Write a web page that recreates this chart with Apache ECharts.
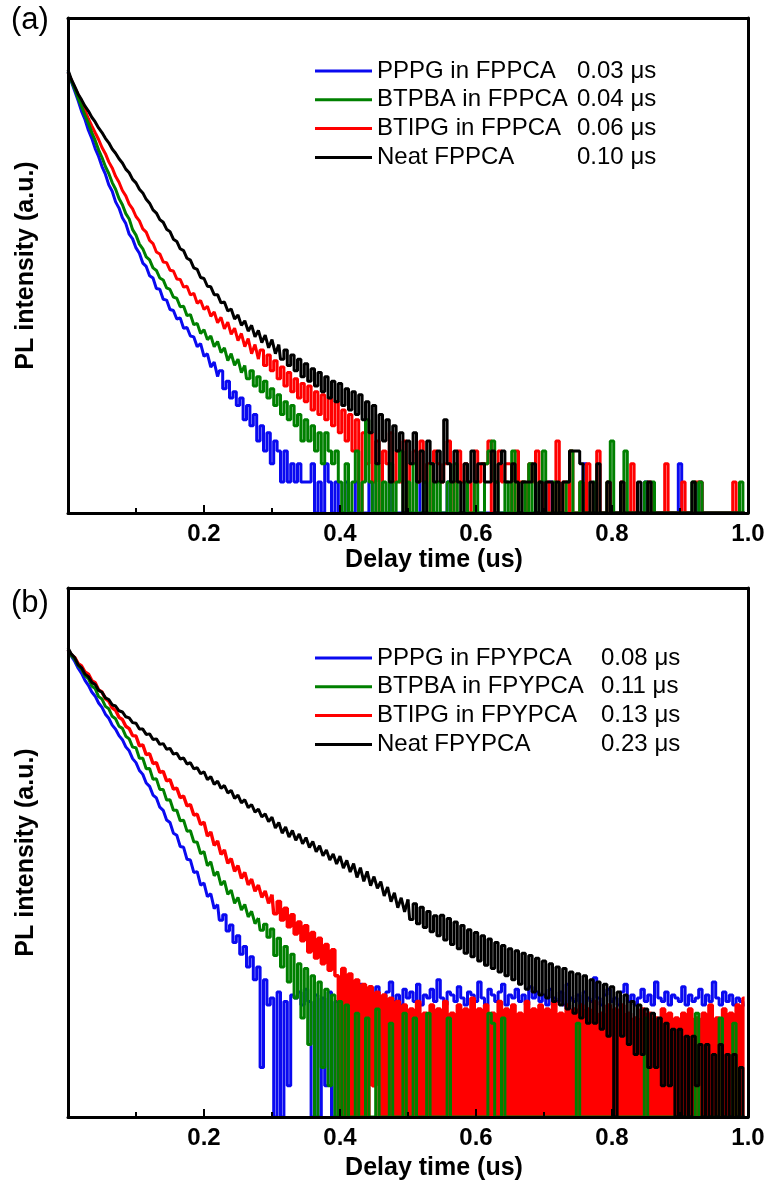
<!DOCTYPE html>
<html>
<head>
<meta charset="utf-8">
<script src="https://cdn.jsdelivr.net/npm/echarts@6/dist/echarts.min.js"></script>
<style>
html,body{margin:0;padding:0;background:#fff;}
#chart{width:769px;height:1190px;}
</style>
</head>
<body>
<div id="chart"></div>
<script>
// Time grid step (us) for every series
const T_STEP = 0.005;
const X_TICKS = [0.2, 0.4, 0.6, 0.8, 1.0];

// Panel (a): host FPPCA
const NAMES_A = ['PPPG in FPPCA', 'BTPBA in FPPCA', 'BTIPG in FPPCA', 'Neat FPPCA'];
const TAU_A = ['0.03 μs', '0.04 μs', '0.06 μs', '0.10 μs'];
const A_BLUE = [18900,15200,12300,9950,7850,6540,5150,4300,3420,2870,
2290,1930,1520,1320,1040,905,730,640,505,455,
372,330,265,246,200,190,150,148,118,116,
94,92,76,78,62,63,52,51,41,44,
33,35,26,29,21,24,16,19,13,15,
11,13,8,11,7,9,5,7,4,6,
3,5,4,2,4,2,3,2,3,2,
2,2,3,1,2,1,3,2,1,2,
1,1,2,1,1,2,1,1,1,2,
1,1,1,1,1,2,1,1,1,1,
1,1,1,2,1,1,1,1,1,1,
1,1,2,1,1,1,1,1,1,1,
1,1,1,1,1,1,1,1,1,1,
1,1,1,1,1,1,1,1,1,1,
2,1,2,1,1,1,1,1,1,1,
1,1,3,1,1,1,1,1,1,1,
1,1,1,1,1,1,1,1,1,1,
2,1,1,1,1,1,1,1,1,1,
3,1,1,1,1,1,2,1,1,1,
1,1,1,1,1,1,1,1,1,1];
const A_GREEN = [18900,15500,12900,10500,8750,7200,6010,4880,4100,3320,
2800,2290,1960,1600,1380,1120,975,800,710,560,
495,405,365,305,285,238,225,190,182,152,
147,124,121,100,101,82,84,67,69,55,
60,48,52,41,46,36,40,30,35,27,
31,23,27,20,24,17,21,15,19,13,
16,11,14,9,12,8,11,7,9,5,
8,5,7,4,6,3,6,4,3,4,
2,1,3,1,2,4,1,2,8,2,
1,3,1,2,1,3,1,2,4,1,
2,1,3,1,1,2,1,3,1,2,
1,1,2,1,3,1,1,2,1,1,
2,1,1,3,4,5,2,1,1,2,
1,4,1,1,2,1,3,1,1,2,
4,1,1,2,1,1,1,2,4,1,
1,2,1,1,1,2,1,1,1,2,
5,1,1,1,4,1,1,1,1,1,
2,1,2,1,1,1,1,1,1,1,
1,1,1,1,2,1,2,1,1,1,
1,1,1,1,1,1,1,1,2,1];
const A_RED = [18500,15800,13300,11400,9500,8010,6650,5680,4870,4190,
3500,3050,2540,2220,1840,1610,1340,1190,990,890,
750,680,570,530,440,410,340,325,272,268,
226,222,186,184,155,158,130,135,108,115,
94,101,81,89,70,79,61,71,54,62,
47,55,41,49,35,43,31,38,27,34,
24,30,20,26,17,23,15,20,13,18,
12,17,10,15,9,14,8,13,7,12,
6,10,5,9,4,8,1,6,3,6,
2,5,1,4,3,6,2,4,2,5,
1,3,4,2,5,2,3,1,4,3,
2,3,5,1,2,4,2,3,2,1,
4,2,3,3,5,1,2,4,2,3,
3,1,4,2,2,1,3,2,4,2,
1,2,1,1,5,1,2,1,4,1,
1,2,1,3,1,1,4,1,1,2,
1,1,1,2,1,1,3,1,1,1,
1,2,1,1,1,1,3,1,1,1,
1,2,1,1,1,2,2,1,1,1,
1,1,1,1,1,1,2,1,1,1];
const A_BLACK = [19800,16000,13600,11500,10150,8800,7900,6880,6200,5420,
4890,4300,3890,3390,3080,2720,2480,2160,1990,1720,
1590,1380,1270,1100,1010,870,810,700,660,565,
535,452,430,365,350,295,283,238,230,192,
188,158,156,131,131,109,111,91,95,76,
83,66,73,58,66,51,59,45,53,40,
48,35,43,31,38,27,34,24,31,21,
28,19,25,17,23,15,21,13,19,12,
18,11,16,10,15,9,14,8,12,6,
11,3,9,5,8,2,7,4,6,1,
5,3,6,2,4,1,5,3,2,4,
2,8,3,2,4,2,1,3,2,4,
2,3,3,2,2,4,1,3,4,2,
2,3,2,1,2,2,2,3,1,2,
1,2,2,1,2,1,2,2,4,4,
4,3,1,1,2,1,3,1,1,2,
1,1,1,2,1,1,1,1,2,1,
1,2,1,1,1,1,1,1,1,1,
1,1,1,1,2,1,1,1,1,1,
1,1,1,1,1,1,1,1,1,1];

// Panel (b): host FPYPCA
const NAMES_B = ['PPPG in FPYPCA', 'BTPBA in FPYPCA', 'BTIPG in FPYPCA', 'Neat FPYPCA'];
const TAU_B = ['0.08 μs', '0.11 μs', '0.13 μs', '0.23 μs'];
const B_BLUE = [31900,27700,24600,21200,18900,16200,14500,12500,11400,9800,
8900,7650,6990,6000,5480,4750,4340,3700,3390,2850,
2610,2190,2010,1660,1540,1270,1190,970,905,730,
690,545,520,405,398,305,300,228,232,172,
180,133,142,102,112,79,89,62,71,48,
56,37,44,28,35,21,28,3,21,12,
14,1,16,1,13,2,15,14,16,12,
17,13,1,15,1,14,2,16,1,13,
1,15,14,17,12,15,19,13,14,16,
12,18,14,13,16,20,13,15,12,17,
14,16,13,19,12,15,14,17,13,21,
14,12,16,15,13,18,14,12,16,15,
13,20,14,12,17,15,13,16,19,12,
15,14,17,13,15,12,18,14,16,13,
15,12,17,14,13,16,12,19,14,13,
15,12,16,14,13,22,14,12,15,17,
13,14,12,16,19,13,15,12,14,17,
13,15,12,20,14,13,16,12,15,14,
13,18,12,15,13,14,17,12,15,13,
20,14,12,16,13,15,12,14,13,12];
const B_GREEN = [31900,28200,25900,22500,20800,18000,16800,14300,13500,11300,
10700,9100,8620,7300,6900,5850,5580,4690,4420,3680,
3630,2870,2880,2280,2290,1800,1820,1440,1440,1140,
1145,906,908,718,725,570,575,451,445,345,
362,265,289,212,232,172,189,140,154,115,
131,99,112,85,96,73,83,63,72,54,
65,36,53,28,44,20,37,14,30,9,
27,5,23,1,20,3,17,2,15,1,
13,1,12,1,1,10,1,1,9,1,
1,11,1,1,1,8,1,1,1,10,
1,1,9,1,1,1,10,1,1,1,
1,1,9,1,1,1,1,1,1,1,
1,1,1,1,10,8,1,1,9,1,
1,1,1,1,1,1,1,1,1,1,
1,1,1,1,1,1,1,1,1,1,
8,1,1,1,1,1,1,1,1,1,
1,1,1,1,1,1,1,1,1,1,
9,1,1,1,1,1,1,1,1,1,
1,1,1,1,1,10,1,1,1,1,
1,1,9,1,1,1,8,1,1,1];
const B_RED = [31900,28500,26900,23500,22300,19500,18600,16100,15400,13100,
12500,10800,10200,8780,8330,7130,6800,5850,5560,4750,
4710,3780,3870,3110,3180,2560,2610,2100,2150,1740,
1790,1450,1480,1200,1240,1000,1030,815,830,660,
695,510,560,415,458,340,375,279,310,234,
265,200,228,173,196,150,172,131,151,115,
139,91,120,79,103,68,89,58,76,50,
70,39,60,34,53,30,46,26,41,23,
1,27,1,24,1,21,1,19,1,18,
2,16,1,15,1,14,1,13,1,12,
1,11,1,13,1,10,1,12,1,11,
1,13,1,10,1,12,1,11,1,14,
1,11,1,12,1,10,1,13,1,11,
1,12,1,10,1,13,1,11,1,12,
1,11,1,13,1,10,1,12,1,11,
1,12,1,11,1,13,1,10,1,12,
1,11,1,12,1,10,1,9,1,11,
1,10,1,9,1,11,1,10,1,9,
1,10,1,11,1,9,1,10,1,12,
1,9,1,11,1,10,1,12,1,14];
const B_BLACK = [33300,29000,26700,22800,21400,18600,17600,15500,14800,13000,
12450,11000,10600,9420,9170,8250,8030,7220,7040,6340,
6250,5500,5490,4880,4940,4360,4420,3910,3980,3510,
3580,3150,3220,2830,2890,2530,2600,2270,2330,2040,
2130,1790,1910,1610,1730,1470,1570,1330,1410,1180,
1270,1070,1145,960,1030,870,930,780,836,705,
776,610,690,545,625,500,578,465,534,430,
494,396,452,360,412,330,376,300,344,275,
327,251,298,230,277,204,253,187,233,170,
208,160,186,135,165,119,145,104,130,95,
125,80,114,73,105,67,96,61,87,56,
88,51,82,46,76,42,70,38,64,35,
60,32,56,29,52,27,48,25,45,23,
42,21,40,19,38,17,36,16,34,15,
32,14,30,13,28,12,27,11,25,10,
24,9,23,8,21,8,20,7,19,6,
18,1,16,6,15,5,13,4,12,4,
11,3,10,3,9,2,8,2,7,1,
7,1,6,1,6,2,5,1,5,1,
4,1,5,1,4,1,4,1,3,1];

const COLORS = { blue: '#0a0af0', green: '#008000', red: '#ff0000', black: '#000000' };
const FONT = "'Liberation Sans', Arial, sans-serif";

function pairs(arr, from, to) {
  const out = [];
  for (let i = from; i < to; i++) out.push([Math.round(i * T_STEP * 1000) / 1000, arr[i]]);
  return out;
}
function base(name, data, color, xi, yi, w, step) {
  return {
    name: name, type: 'line', data: data, xAxisIndex: xi, yAxisIndex: yi,
    step: step, symbol: 'none', showSymbol: false, color: color, silent: true,
    lineStyle: { color: color, width: w, join: 'bevel' },
    itemStyle: { color: color }, animation: false, clip: true
  };
}
// smooth decay drawn as a plain line, noisy counting floor drawn as histogram-like steps
function mk(name, arr, color, xi, yi, w, split) {
  return [
    base(name, pairs(arr, 0, split + 1), color, xi, yi, w, false),
    base(name, pairs(arr, split, arr.length), color, xi, yi, w, 'middle')
  ];
}
const frameLine = { show: true, onZero: false, lineStyle: { color: '#000', width: 3 } };

function bottomX(g, nameGap) {
  return {
    gridIndex: g, type: 'value', min: 0, max: 1, interval: 0.2, position: 'bottom', z: 10,
    axisLine: frameLine,
    axisTick: { show: true, inside: true, length: 8, lineStyle: { color: '#000', width: 2 } },
    minorTick: { show: true, splitNumber: 2, length: 5, lineStyle: { color: '#000', width: 2 } },
    splitLine: { show: false }, minorSplitLine: { show: false },
    axisLabel: {
      show: true, margin: 9, color: '#000', fontSize: 24, fontWeight: 'bold', fontFamily: FONT, lineHeight: 24,
      formatter: v => (X_TICKS.some(t => Math.abs(t - v) < 1e-6) ? v.toFixed(1) : '')
    },
    name: 'Delay time (us)', nameLocation: 'middle', nameGap: nameGap,
    nameTextStyle: { color: '#000', fontSize: 25, fontWeight: 'bold', fontFamily: FONT, lineHeight: 26, padding: [0, 0, 0, 52] }
  };
}
function topX(g) {
  return { gridIndex: g, type: 'value', min: 0, max: 1, position: 'top', z: 10, axisLine: frameLine,
    axisTick: { show: false }, axisLabel: { show: false }, splitLine: { show: false } };
}
function leftY(g, max) {
  return {
    gridIndex: g, type: 'log', logBase: 10, min: 1, max: max, position: 'left', z: 10,
    axisLine: frameLine, axisTick: { show: false }, axisLabel: { show: false },
    splitLine: { show: false }, minorTick: { show: false },
    name: 'PL intensity (a.u.)', nameLocation: 'middle', nameGap: 29,
    nameTextStyle: { color: '#000', fontSize: 25, fontWeight: 'bold', fontFamily: FONT, lineHeight: 26 }
  };
}
function rightY(g) {
  return { gridIndex: g, type: 'value', min: 0, max: 1, position: 'right', z: 10, axisLine: frameLine,
    axisTick: { show: false }, axisLabel: { show: false }, splitLine: { show: false } };
}
function legend(names, taus, top, nameWidth) {
  return {
    data: names, orient: 'vertical', left: 315, top: top, padding: 0,
    itemWidth: 57, itemHeight: 3, itemGap: 4.8, icon: 'rect', selectedMode: false,
    formatter: name => '{n|' + name + '}{v|' + taus[names.indexOf(name)] + '}',
    textStyle: {
      color: '#000', fontFamily: FONT,
      rich: {
        n: { width: nameWidth, fontSize: 24, lineHeight: 24, fontFamily: FONT, color: '#000', align: 'left' },
        v: { fontSize: 24, lineHeight: 24, fontFamily: FONT, color: '#000' }
      }
    }
  };
}

const chart = echarts.init(document.getElementById('chart'), null, { renderer: 'canvas' });
chart.setOption({
  animation: false,
  backgroundColor: '#fff',
  title: [
    { text: '(a)', left: 11, top: 5, padding: 0, textStyle: { fontSize: 31, fontWeight: 'normal', color: '#000', fontFamily: FONT } },
    { text: '(b)', left: 11, top: 588, padding: 0, textStyle: { fontSize: 31, fontWeight: 'normal', color: '#000', fontFamily: FONT } }
  ],
  grid: [
    { left: 68, top: 18, width: 680, height: 495 },
    { left: 68, top: 588, width: 680, height: 529 }
  ],
  xAxis: [bottomX(0, 30), topX(0), bottomX(1, 38), topX(1)],
  yAxis: [leftY(0, Math.pow(10, 4.8)), rightY(0), leftY(1, Math.pow(10, 5.1)), rightY(1)],
  legend: [
    legend(NAMES_A, TAU_A, 59, 200),
    legend(NAMES_B, TAU_B, 646, 224)
  ],
  series: [].concat(
    mk(NAMES_A[0], A_BLUE, COLORS.blue, 0, 0, 3, 44),
    mk(NAMES_A[2], A_RED, COLORS.red, 0, 0, 3, 56),
    mk(NAMES_A[1], A_GREEN, COLORS.green, 0, 0, 3, 52),
    mk(NAMES_A[3], A_BLACK, COLORS.black, 0, 0, 3, 62),
    mk(NAMES_B[0], B_BLUE, COLORS.blue, 2, 2, 3, 44),
    mk(NAMES_B[2], B_RED, COLORS.red, 2, 2, 3.4, 60),
    mk(NAMES_B[1], B_GREEN, COLORS.green, 2, 2, 3, 56),
    mk(NAMES_B[3], B_BLACK, COLORS.black, 2, 2, 3, 100)
  )
});
</script>
</body>
</html>
